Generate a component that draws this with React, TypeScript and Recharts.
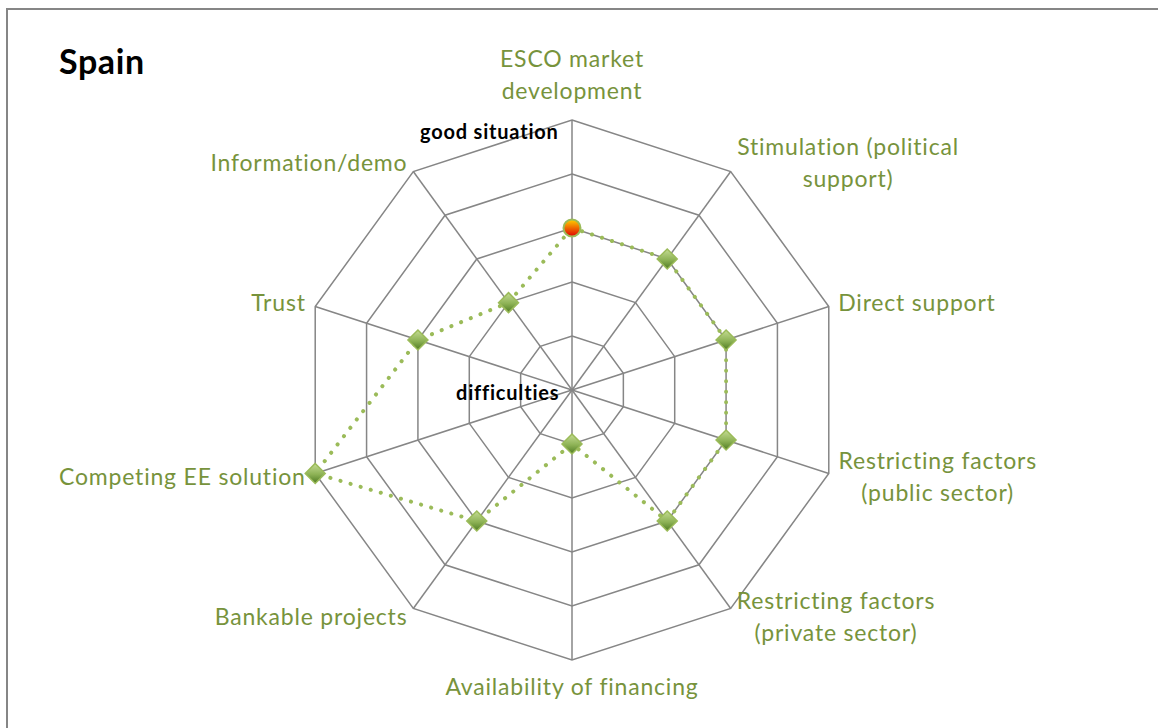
import { RadarChart, Radar, PolarGrid, PolarAngleAxis, PolarRadiusAxis } from "recharts"

const categories = [
  "ESCO market\ndevelopment",
  "Stimulation (political\nsupport)",
  "Direct support",
  "Restricting factors\n(public sector)",
  "Restricting factors\n(private sector)",
  "Availability of financing",
  "Bankable projects",
  "Competing EE solution",
  "Trust",
  "Information/demo",
]
const scores = [3, 3, 3, 3, 3, 1, 3, 5, 3, 2]
const radiusTicks = [0, 1, 2, 3, 4, 5]

const data = categories.map((name, i) => ({ name, score: scores[i] }))

const FONT = "Lato, 'Open Sans', sans-serif"
const LABEL_SIZE = 23
const LABEL_SPACING = 0.8
const LINE_H = 32
const LABEL_COLOR = "#77933C"

let ctx: CanvasRenderingContext2D | null = null
function measure(s: string) {
  if (!ctx) ctx = document.createElement("canvas").getContext("2d")
  if (!ctx) return s.length * 11
  ctx.font = `${LABEL_SIZE}px ${FONT}`
  return ctx.measureText(s).width + s.length * LABEL_SPACING
}

function AngleTick(props: any) {
  const { x, y, textAnchor, payload } = props
  const lines: string[] = String(payload.value).split("\n")
  const sin = Math.sin((payload.coordinate * Math.PI) / 180)
  let firstBase: number
  if (sin > 0.9) firstBase = y - 11 - (lines.length - 1) * LINE_H
  else if (sin < -0.9) firstBase = y + 25
  else firstBase = y + 8 - ((lines.length - 1) * LINE_H) / 2

  let anchor = textAnchor
  let tx = x
  if (lines.length > 1 && textAnchor !== "middle") {
    const w = Math.max(...lines.map(measure))
    tx = textAnchor === "start" ? x + w / 2 : x - w / 2
    anchor = "middle"
  }
  return (
    <text
      x={tx}
      y={firstBase}
      textAnchor={anchor}
      fill={LABEL_COLOR}
      fontSize={LABEL_SIZE}
      fontFamily={FONT}
      letterSpacing={LABEL_SPACING}
    >
      {lines.map((l, i) => (
        <tspan key={i} x={tx} y={firstBase + i * LINE_H}>
          {l}
        </tspan>
      ))}
    </text>
  )
}

function Marker(props: any) {
  const { cx, cy, index } = props
  if (index === 0) {
    return (
      <g key={index}>
        <defs>
          <linearGradient id="dotRed" x1="0" y1="0" x2="0" y2="1">
            <stop offset="0%" stopColor="#FFD200" />
            <stop offset="100%" stopColor="#E00000" />
          </linearGradient>
        </defs>
        <circle cx={cx} cy={cy} r={8.5} fill="url(#dotRed)" stroke="#9BBB59" strokeWidth={2} />
      </g>
    )
  }
  const id = `dia${index}`
  const d = 10
  return (
    <g key={index}>
      <defs>
        <linearGradient id={id} x1="0" y1="0" x2="0" y2="1">
          <stop offset="0%" stopColor="#C5DC94" />
          <stop offset="55%" stopColor="#8DB255" />
          <stop offset="100%" stopColor="#4E7A22" />
        </linearGradient>
      </defs>
      <path
        d={`M${cx},${cy - d} L${cx + d},${cy} L${cx},${cy + d} L${cx - d},${cy} Z`}
        fill={`url(#${id})`}
        stroke="#9BBB59"
        strokeWidth={1.5}
      />
    </g>
  )
}

const boldText = {
  position: "absolute" as const,
  fontFamily: FONT,
  fontWeight: 700,
  color: "#000",
  whiteSpace: "nowrap" as const,
}

export default function App() {
  return (
    <div style={{ position: "absolute", left: 0, top: 0, width: 1158, height: 728, background: "#fff" }}>
      <div
        style={{
          position: "absolute",
          left: 6,
          top: 8,
          width: 1152,
          height: 720,
          borderLeft: "2px solid #868686",
          borderTop: "2px solid #868686",
          boxSizing: "border-box",
        }}
      />
      <div style={{ ...boldText, left: 59, top: 41, fontSize: 34, lineHeight: "40px", letterSpacing: 0.6 }}>
        Spain
      </div>
      <RadarChart
        width={1158}
        height={728}
        data={data}
        cx={572}
        cy={390}
        outerRadius={270}
        startAngle={90}
        endAngle={-270}
        style={{ position: "absolute", left: 0, top: 0 }}
      >
        <PolarGrid gridType="polygon" stroke="#868686" strokeWidth={1.5} />
        <PolarRadiusAxis domain={[0, 5]} ticks={radiusTicks as any} tickCount={6} axisLine={false} tick={false} />
        <PolarAngleAxis dataKey="name" tick={<AngleTick />} tickLine={false} tickSize={10} axisLine={false} />
        <Radar
          dataKey="score"
          stroke="#9BBB59"
          strokeWidth={4}
          strokeDasharray="0.1 10.4"
          strokeLinecap="round"
          fill="none"
          fillOpacity={0}
          dot={<Marker />}
          isAnimationActive={false}
        />
      </RadarChart>
      <div style={{ ...boldText, left: 420, top: 119, fontSize: 20, lineHeight: "24px", letterSpacing: 0.8 }}>
        good situation
      </div>
      <div style={{ ...boldText, left: 456, top: 380, fontSize: 20, lineHeight: "24px", letterSpacing: 0.8 }}>
        difficulties
      </div>
    </div>
  )
}
